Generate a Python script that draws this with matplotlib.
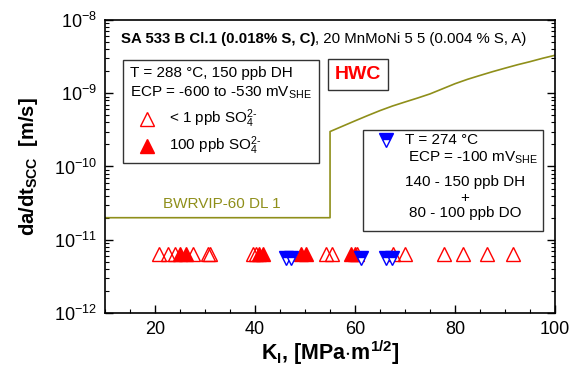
import matplotlib
matplotlib.use("Agg")
import matplotlib.pyplot as plt
from matplotlib.ticker import LogLocator, MultipleLocator, NullFormatter

plt.rcParams['font.family'] = ['Liberation Sans', 'DejaVu Sans']
plt.rcParams['mathtext.fontset'] = 'custom'
plt.rcParams['mathtext.rm'] = 'Liberation Sans'
plt.rcParams['mathtext.it'] = 'Liberation Sans:italic'
plt.rcParams['mathtext.bf'] = 'Liberation Sans:bold'

# crack growth data, HWC, 288 C, < 1 ppb sulphate
K_open = [20.8, 22.5, 24.0, 27.6, 30.6, 31.0, 39.5, 40.2, 54.2, 55.3,
          60.4, 67.6, 70.0, 77.8, 81.5, 86.3, 91.6]
v_open = [6.3e-12] * len(K_open)

# 100 ppb sulphate
K_filled = [25.0, 26.2, 40.7, 41.6, 49.2, 50.2, 59.1, 60.0]
v_filled = [6.3e-12] * len(K_filled)

# 274 C, DH + DO
K_blue = [46.1, 47.2, 61.1, 66.2, 67.3]
v_blue = [5.7e-12] * len(K_blue)

# BWRVIP-60 disposition line 1
K_dl1 = [10, 55, 55, 57.5, 60, 62.5, 65, 67.5, 70, 72.5, 75, 77.5, 80,
         82.5, 85, 87.5, 90, 92.5, 95, 97.5, 100]
v_dl1 = [2.0e-11, 2.0e-11, 3.0e-10, 3.55e-10, 4.2e-10, 4.95e-10, 5.8e-10,
         6.7e-10, 7.6e-10, 8.6e-10, 9.8e-10, 1.15e-9, 1.35e-9, 1.55e-9,
         1.75e-9, 1.97e-9, 2.2e-9, 2.45e-9, 2.7e-9, 3.0e-9, 3.3e-9]

red = '#ff0000'
blue = '#0000ff'
olive = '#8f8f1a'
frame = '#333333'
so4 = 'SO$_4^{2\u2010}$'

fig = plt.figure(figsize=(5.77, 3.70), dpi=100)
ax = fig.add_axes([0.182, 0.154, 0.780, 0.792])

ax.plot(K_dl1, v_dl1, color=olive, lw=1.2, zorder=2)
ax.plot(K_open, v_open, ls='none', marker='^', ms=10, mfc='none', mec=red, mew=1.0, zorder=3)
ax.plot(K_filled, v_filled, ls='none', marker='^', ms=10, mfc=red, mec=red, mew=1.0, zorder=4)
ax.plot(K_blue, v_blue, ls='none', marker='v', ms=10, fillstyle='top', mfc=blue,
        mfcalt='white', mec=blue, mew=1.0, zorder=5)

ax.set_yscale('log')
ax.set_xlim(10, 100)
ax.set_ylim(1e-12, 1e-8)
ax.xaxis.set_major_locator(MultipleLocator(20))
ax.xaxis.set_minor_locator(MultipleLocator(5))
ax.yaxis.set_major_locator(LogLocator(base=10, numticks=10))
ax.yaxis.set_minor_locator(LogLocator(base=10, subs=range(2, 10), numticks=10))
ax.yaxis.set_minor_formatter(NullFormatter())
ax.tick_params(which='both', direction='in', right=True, top=False, labelsize=13, pad=6)
ax.tick_params(which='major', length=6, width=1)
ax.tick_params(which='minor', length=3, width=0.8)
for s in ax.spines.values():
    s.set_linewidth(1.2)

ax.set_xlabel(r'$\mathbf{K_I}$, [MPa$\mathbf{\cdot}$m$^{\mathbf{1/2}}$]', fontsize=15.5,
              fontweight='bold', labelpad=0)
ax.set_ylabel(r'da/dt$_{\mathbf{SCC}}$  [m/s]', fontsize=14.5, fontweight='bold', labelpad=10)

# heading with materials
ax.text(0.035, 0.935, 'SA 533 B Cl.1 (0.018% S, C)', transform=ax.transAxes,
        fontsize=10.8, fontweight='bold', va='center', ha='left')
ax.annotate(', 20 MnMoNi 5 5 (0.004 % S, A)', xy=(1, 0.5), xycoords=ax.texts[-1],
            fontsize=10.8, va='center', ha='left')

# HWC legend box
ax.add_patch(plt.Rectangle((0.039, 0.512), 0.437, 0.350, transform=ax.transAxes,
                           fill=False, ec=frame, lw=1.0))
ax.text(0.055, 0.818, 'T = 288 °C, 150 ppb DH', transform=ax.transAxes, fontsize=11, va='center')
ax.text(0.055, 0.752, r'ECP = -600 to -530 mV$_{\mathrm{SHE}}$', transform=ax.transAxes,
        fontsize=11, va='center')
ax.plot([0.093], [0.662], transform=ax.transAxes, marker='^', ms=10, mfc='none', mec=red, mew=1.0)
ax.text(0.142, 0.662, '< 1 ppb ' + so4, transform=ax.transAxes, fontsize=11, va='center')
ax.plot([0.093], [0.570], transform=ax.transAxes, marker='^', ms=10, mfc=red, mec=red, mew=1.0)
ax.text(0.142, 0.570, '100 ppb ' + so4, transform=ax.transAxes, fontsize=11, va='center')

ax.text(0.563, 0.813, 'HWC', transform=ax.transAxes, fontsize=14, fontweight='bold',
        color=red, ha='center', va='center',
        bbox=dict(boxstyle='square,pad=0.35', fc='white', ec=frame, lw=1.0))

# box for the 274 C data
ax.add_patch(plt.Rectangle((0.574, 0.280), 0.400, 0.345, transform=ax.transAxes,
                           fc='white', ec=frame, lw=1.0, zorder=1))
ax.plot([0.624], [0.592], transform=ax.transAxes, marker='v', ms=10, fillstyle='top',
        mfc=blue, mfcalt='white', mec=blue, mew=1.0)
ax.text(0.667, 0.590, 'T = 274 °C', transform=ax.transAxes, fontsize=11, va='center')
ax.text(0.673, 0.528, r'ECP = -100 mV$_{\mathrm{SHE}}$', transform=ax.transAxes,
        fontsize=11, va='center')
ax.text(0.800, 0.448, '140 - 150 ppb DH', transform=ax.transAxes, fontsize=11,
        va='center', ha='center')
ax.text(0.800, 0.392, '+', transform=ax.transAxes, fontsize=11, va='center', ha='center')
ax.text(0.800, 0.341, '80 - 100 ppb DO', transform=ax.transAxes, fontsize=11,
        va='center', ha='center')

ax.text(33.4, 2.0e-11 * 1.25, 'BWRVIP-60 DL 1', color=olive, fontsize=11,
        ha='center', va='bottom')

fig.savefig('out.png', dpi=100)
